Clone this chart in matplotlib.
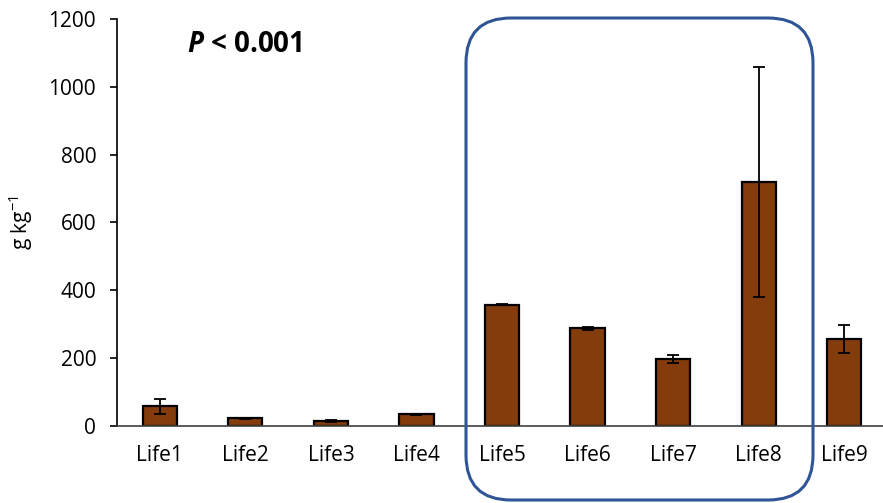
import matplotlib
matplotlib.use("Agg")
import matplotlib.pyplot as plt
from matplotlib.patches import FancyBboxPatch
from matplotlib.transforms import IdentityTransform

categories = ["Life1", "Life2", "Life3", "Life4", "Life5", "Life6", "Life7", "Life8", "Life9"]
means = [58, 23, 15, 34, 358, 288, 198, 720, 256]
errors = [22, 2, 2, 1, 2, 5, 11, 339, 42]
yticks = [0, 200, 400, 600, 800, 1000, 1200]

FONT = "Open Sans"
plt.rcParams["font.family"] = [FONT, "DejaVu Sans"]
plt.rcParams["mathtext.fontset"] = "custom"
plt.rcParams["mathtext.rm"] = FONT
plt.rcParams["mathtext.it"] = FONT + ":italic"
plt.rcParams["mathtext.bf"] = FONT + ":bold"
plt.rcParams["mathtext.bfit"] = FONT + ":bold:italic"

W, H = 883, 503
fig = plt.figure(figsize=(W / 100, H / 100), dpi=100)
ax = fig.add_axes([117 / W, (H - 426) / H, 770 / W, 407 / H])

x = range(len(categories))
ax.bar(x, means, width=0.4, color="#843C0C", edgecolor="black", linewidth=1.6, zorder=2)
ax.errorbar(x, means, yerr=errors, fmt="none", ecolor="black", elinewidth=1.3,
            capsize=4.2, capthick=1.3, zorder=3)

ax.set_xlim(-0.5, len(categories) - 0.5)
ax.set_ylim(0, 1200)
ax.set_yticks(yticks)
ax.set_xticks(list(x))
ax.set_xticklabels(categories, fontsize=15)
ax.tick_params(axis="y", labelsize=15, length=5, width=1.2, direction="out", pad=10)
ax.tick_params(axis="x", length=0, pad=14)
for s in ("top", "right"):
    ax.spines[s].set_visible(False)
ax.spines["left"].set_linewidth(1.2)
ax.spines["bottom"].set_linewidth(1.2)
ax.spines["bottom"].set_color("#404040")

ax.set_ylabel(r"g kg$^{\mathregular{-1}}$", fontsize=15)
ax.yaxis.set_label_coords(-82 / 770, 0.5)

fig.text(187 / W, 1 - 45 / H, r"$\bfit{P}$ < 0.001", fontsize=20, fontweight="bold",
         ha="left", va="center")

box = FancyBboxPatch((466, 3), 347, 482, boxstyle="round,pad=0,rounding_size=45",
                     transform=IdentityTransform(), fill=False,
                     edgecolor="#2F5597", linewidth=2.2, clip_on=False)
fig.patches.append(box)

fig.savefig("out.png", dpi=100)
